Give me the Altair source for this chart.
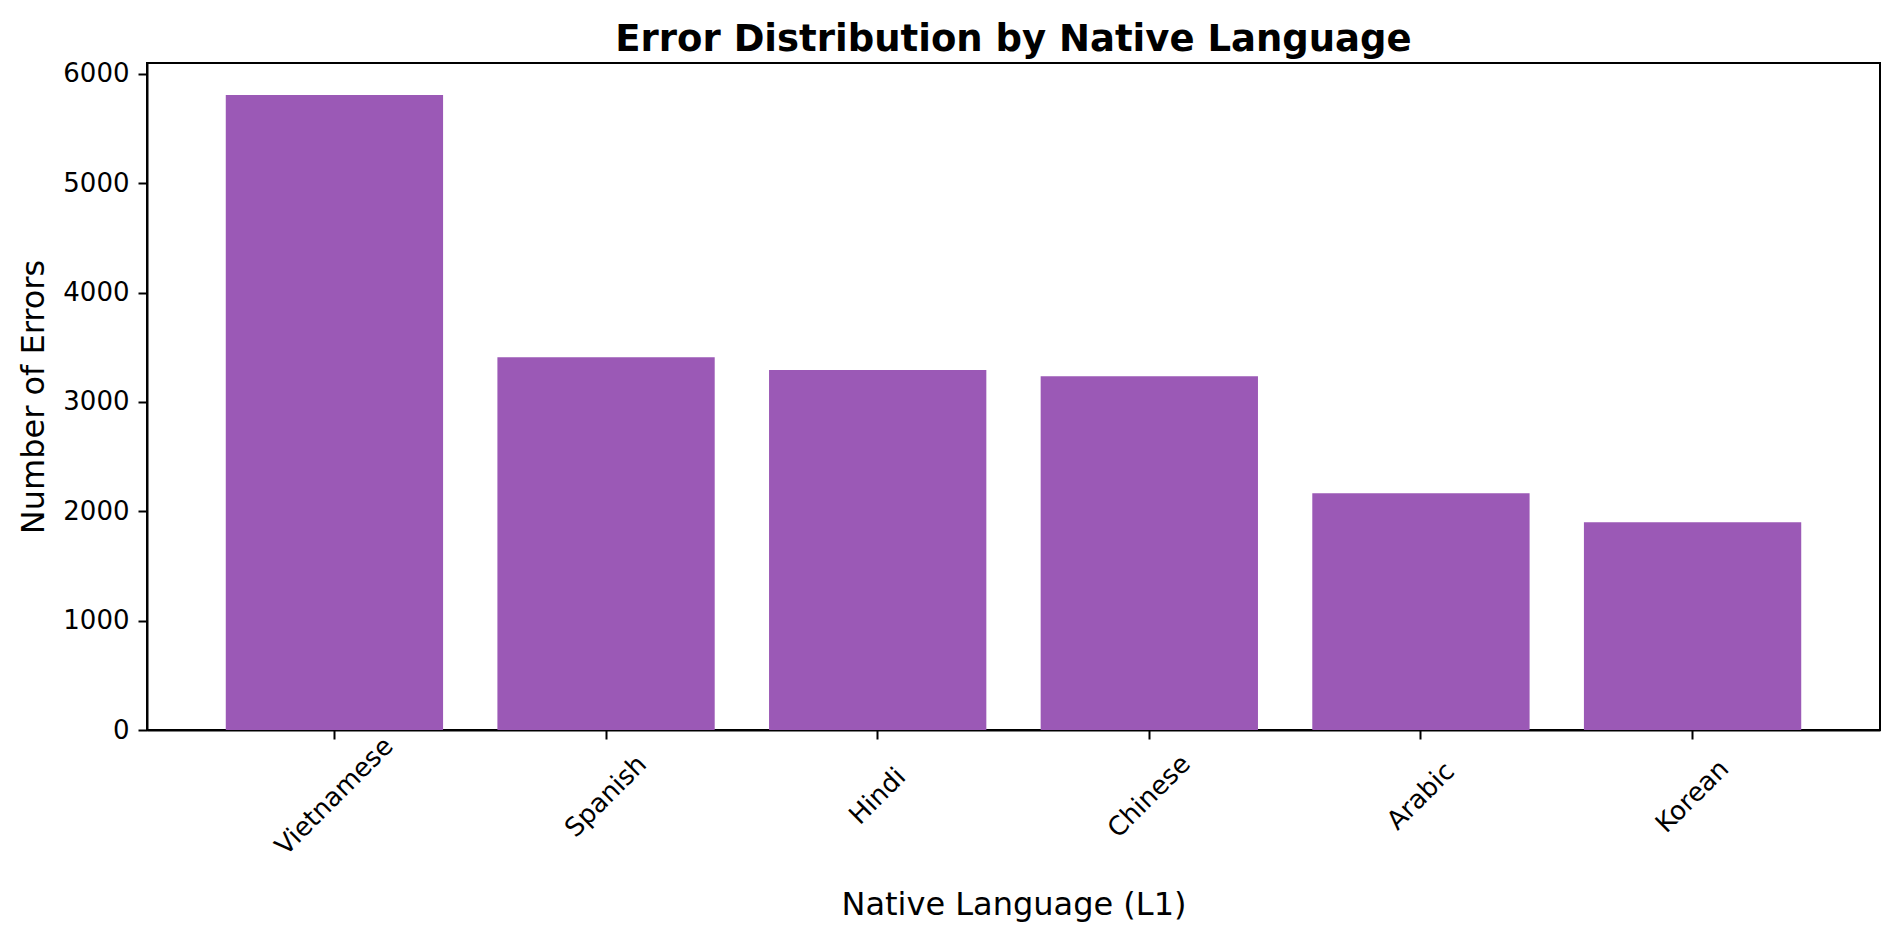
import altair as alt
import pandas as pd

languages = ["Vietnamese", "Spanish", "Hindi", "Chinese", "Arabic", "Korean"]
errors = [5808, 3408, 3293, 3236, 2165, 1900]
y_ticks = [0, 1000, 2000, 3000, 4000, 5000, 6000]

df = pd.DataFrame({"Language": languages, "Errors": errors})

FONT = "DejaVu Sans"

chart = (
    alt.Chart(df)
    .mark_bar(color="#9b59b6")
    .encode(
        x=alt.X(
            "Language:N",
            sort=languages,
            scale=alt.Scale(paddingInner=0.2, paddingOuter=0.29),
            axis=alt.Axis(
                title="Native Language (L1)",
                labelAngle=-45,
                labelAlign="center",
                labelBaseline="middle",
                labelPadding=57,
                tickSize=9,
                tickWidth=2,
                tickColor="black",
                domainColor="black",
                domainWidth=2,
                labelFontSize=26,
                labelColor="black",
                titleFontSize=32,
                titleFontWeight="normal",
                titleColor="black",
                titlePadding=30,
                grid=False,
            ),
        ),
        y=alt.Y(
            "Errors:Q",
            scale=alt.Scale(domain=[0, 6100], nice=False),
            axis=alt.Axis(
                title="Number of Errors",
                values=y_ticks,
                format="d",
                tickSize=9,
                tickWidth=2,
                tickColor="black",
                domainColor="black",
                domainWidth=2,
                labelPadding=9,
                labelFontSize=26,
                labelColor="black",
                titleFontSize=32,
                titleFontWeight="normal",
                titleColor="black",
                titlePadding=12,
                grid=False,
            ),
        ),
    )
    .properties(
        width=1733,
        height=667,
        autosize=alt.AutoSizeParams(type="none"),
        padding={"left": 139, "top": 55, "right": 13, "bottom": 205},
        title=alt.TitleParams(
            "Error Distribution by Native Language",
            fontSize=37,
            fontWeight="bold",
            font=FONT,
            color="black",
            anchor="middle",
            offset=2,
        ),
    )
    .configure(font=FONT)
    .configure_view(stroke="black", strokeWidth=2)
)

chart.save("out.html", embed_options={"renderer": "svg", "actions": False})
